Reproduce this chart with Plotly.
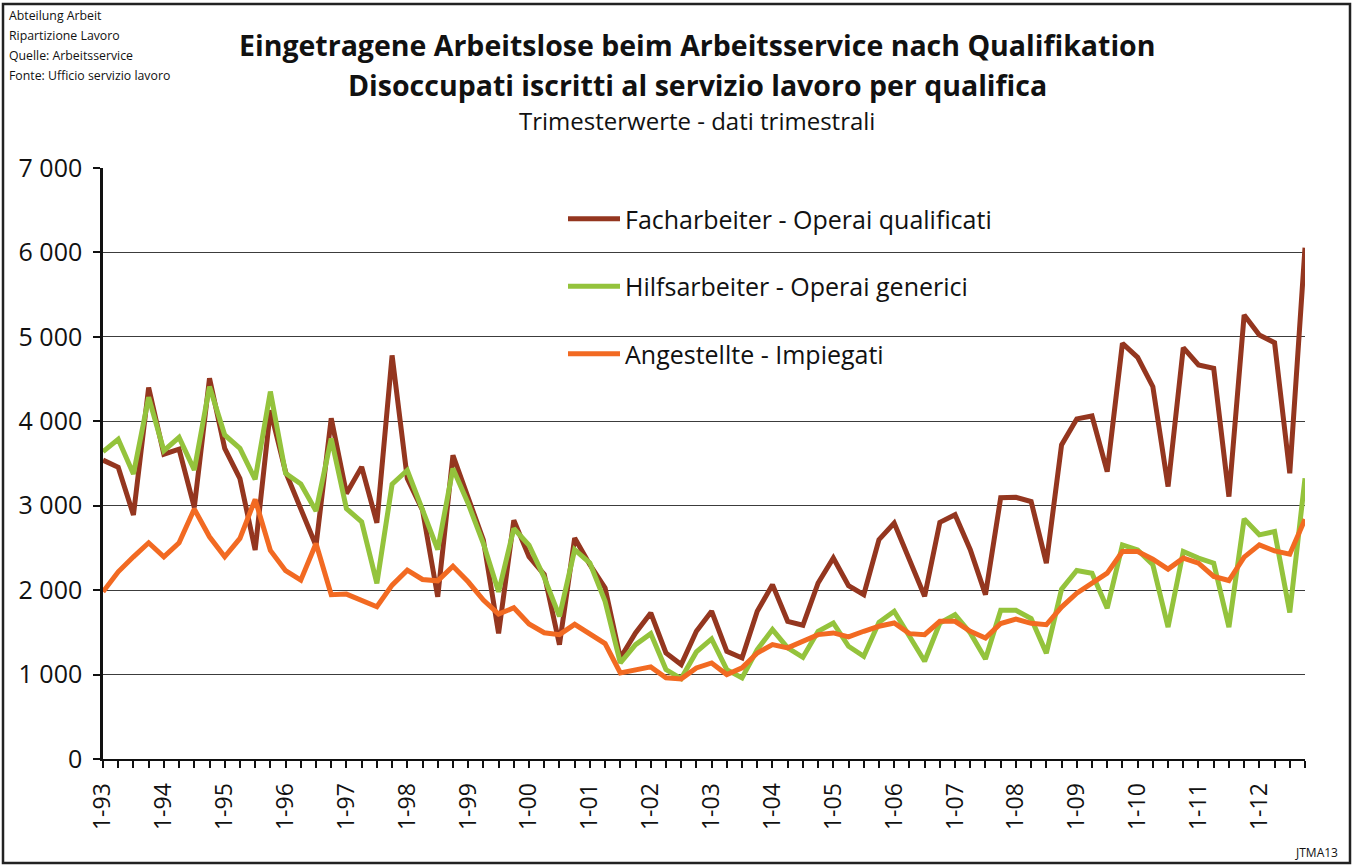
import plotly.graph_objects as go

# Quarterly registered unemployed by qualification, 1-93 .. 4-12
years = ["93", "94", "95", "96", "97", "98", "99", "00", "01", "02",
         "03", "04", "05", "06", "07", "08", "09", "10", "11", "12"]
quarters = [f"{q}-{yy}" for yy in years for q in (1, 2, 3, 4)]

facharbeiter = [
    3540, 3455, 2890, 4400, 3610, 3670, 2980, 4510, 3680, 3320,
    2475, 4130, 3400, 2980, 2525, 4035, 3144, 3460, 2797, 4780,
    3321, 2947, 1921, 3598, 3105, 2592, 1487, 2828, 2395, 2185,
    1355, 2617, 2302, 2026, 1197, 1493, 1730, 1256, 1118, 1513,
    1750, 1276, 1197, 1750, 2065, 1631, 1584, 2085, 2381, 2053,
    1947, 2598, 2795, 2361, 1927, 2803, 2893, 2479, 1947, 3095,
    3100, 3050, 2320, 3720, 4028, 4063, 3404, 4923, 4757, 4410,
    3227, 4872, 4667, 4627, 3108, 5258, 5022, 4931, 3385, 6055,
]
hilfsarbeiter = [
    3640, 3787, 3375, 4285, 3652, 3810, 3423, 4411, 3838, 3680,
    3312, 4352, 3383, 3257, 2938, 3797, 2966, 2809, 2079, 3254,
    3420, 2947, 2481, 3440, 3026, 2552, 1980, 2730, 2532, 2150,
    1690, 2479, 2321, 1868, 1138, 1355, 1485, 1059, 953, 1268,
    1422, 1059, 961, 1296, 1533, 1316, 1205, 1513, 1611, 1335,
    1217, 1619, 1750, 1454, 1158, 1611, 1710, 1493, 1185, 1762,
    1762, 1664, 1254, 2012, 2233, 2201, 1787, 2536, 2477, 2300,
    1562, 2458, 2379, 2320, 1562, 2844, 2655, 2694, 1736, 3325,
]
angestellte = [
    1980, 2217, 2395, 2561, 2395, 2561, 2960, 2632, 2395, 2613,
    3075, 2470, 2230, 2118, 2552, 1945, 1953, 1882, 1803, 2059,
    2237, 2126, 2110, 2284, 2099, 1882, 1716, 1791, 1600, 1495,
    1473, 1595, 1485, 1367, 1020, 1051, 1091, 961, 949, 1079,
    1138, 1000, 1079, 1256, 1355, 1316, 1394, 1473, 1493, 1446,
    1513, 1572, 1611, 1485, 1473, 1631, 1631, 1513, 1434, 1605,
    1658, 1607, 1590, 1799, 1964, 2083, 2201, 2458, 2458, 2367,
    2249, 2379, 2320, 2162, 2114, 2391, 2536, 2465, 2426, 2840,
]

series_names = [
    "Facharbeiter - Operai qualificati",
    "Hilfsarbeiter - Operai generici",
    "Angestellte - Impiegati",
]
series_colors = ["#94361F", "#94C33C", "#F26A22"]

y_tickvals = [0, 1000, 2000, 3000, 4000, 5000, 6000, 7000]
y_ticktext = ["0", "1 000", "2 000", "3 000", "4 000", "5 000", "6 000", "7 000"]

title_lines = [
    "Eingetragene Arbeitslose beim Arbeitsservice nach Qualifikation",
    "Disoccupati iscritti al servizio lavoro per qualifica",
]
subtitle = "Trimesterwerte - dati trimestrali"
source_lines = [
    "Abteilung Arbeit",
    "Ripartizione Lavoro",
    "Quelle: Arbeitsservice",
    "Fonte: Ufficio servizio lavoro",
]
code_label = "JTMA13"

FONT = "Open Sans"
W, H = 1357, 866
L, R, T, B = 103, 1305, 168, 759


def px(x):
    return (x - L) / (R - L)


def py(y):
    return (B - y) / (B - T)


fig = go.Figure()
for i, (name, vals, col) in enumerate(zip(series_names,
                                          [facharbeiter, hilfsarbeiter, angestellte],
                                          series_colors)):
    fig.add_trace(go.Scatter(
        x=quarters, y=vals, mode="lines", name=name, legendgroup=f"g{i}",
        line=dict(color=col, width=5),
    ))

x_ticktext = [q if q.startswith("1-") else "" for q in quarters]

fig.update_xaxes(
    type="category", range=[0, len(quarters) - 1],
    tickmode="array", tickvals=quarters, ticktext=x_ticktext,
    tickangle=-90, ticks="outside", ticklen=7, tickwidth=1.5, tickcolor="#111",
    showline=True, linecolor="#111", linewidth=2, showgrid=False, zeroline=False,
    tickfont=dict(family=FONT, size=23, color="#111"),
    ticklabelstandoff=6,
)
fig.update_yaxes(
    range=[0, 7000], tickmode="array", tickvals=y_tickvals, ticktext=y_ticktext,
    ticks="outside", ticklen=7, tickwidth=1.5, tickcolor="#111",
    showline=True, linecolor="#111", linewidth=2.5,
    showgrid=True, gridcolor="#3c3c3c", gridwidth=1, zeroline=False,
    tickfont=dict(family=FONT, size=25, color="#111"),
    ticklabelstandoff=6,
)

annotations = [
    dict(text=f"<b>{title_lines[0]}</b>", x=px(697), y=py(45),
         font=dict(size=28.5, family=FONT, color="#111"), xanchor="center", yanchor="middle"),
    dict(text=f"<b>{title_lines[1]}</b>", x=px(697), y=py(85),
         font=dict(size=28.5, family=FONT, color="#111"), xanchor="center", yanchor="middle"),
    dict(text=subtitle, x=px(697), y=py(121), font=dict(size=24, family=FONT, color="#111"),
         xanchor="center", yanchor="middle"),
    dict(text=code_label, x=px(1340), y=py(852), font=dict(size=12, family=FONT, color="#111"),
         xanchor="right", yanchor="middle"),
]
for k, line in enumerate(source_lines):
    annotations.append(dict(text=line, x=px(7), y=py(16 + 19.7 * k),
                            font=dict(size=12.3, family=FONT, color="#111"),
                            xanchor="left", yanchor="middle"))
for a in annotations:
    a.update(xref="paper", yref="paper", showarrow=False)

shapes = [
    # white panel behind the legend, above the gridlines
    dict(type="rect", xref="paper", yref="paper", x0=px(525), x1=px(1037),
         y0=py(395), y1=py(180), fillcolor="white", line=dict(width=0), layer="between"),
    # outer frame
    dict(type="rect", xref="paper", yref="paper", x0=px(3), x1=px(1350),
         y0=py(863), y1=py(4), line=dict(color="#222", width=2.5), layer="above"),
]

fig.update_layout(
    width=W, height=H,
    margin=dict(l=L, r=W - R, t=T, b=H - B, pad=0),
    paper_bgcolor="white", plot_bgcolor="white",
    font=dict(family=FONT, color="#111"),
    showlegend=True,
    legend=dict(
        x=px(563), y=py(196), xanchor="left", yanchor="top",
        bgcolor="rgba(0,0,0,0)", font=dict(size=25, family=FONT, color="#111"),
        tracegroupgap=32, itemwidth=52, traceorder="grouped",
    ),
    annotations=annotations,
    shapes=shapes,
)

fig.write_html("out.html")
